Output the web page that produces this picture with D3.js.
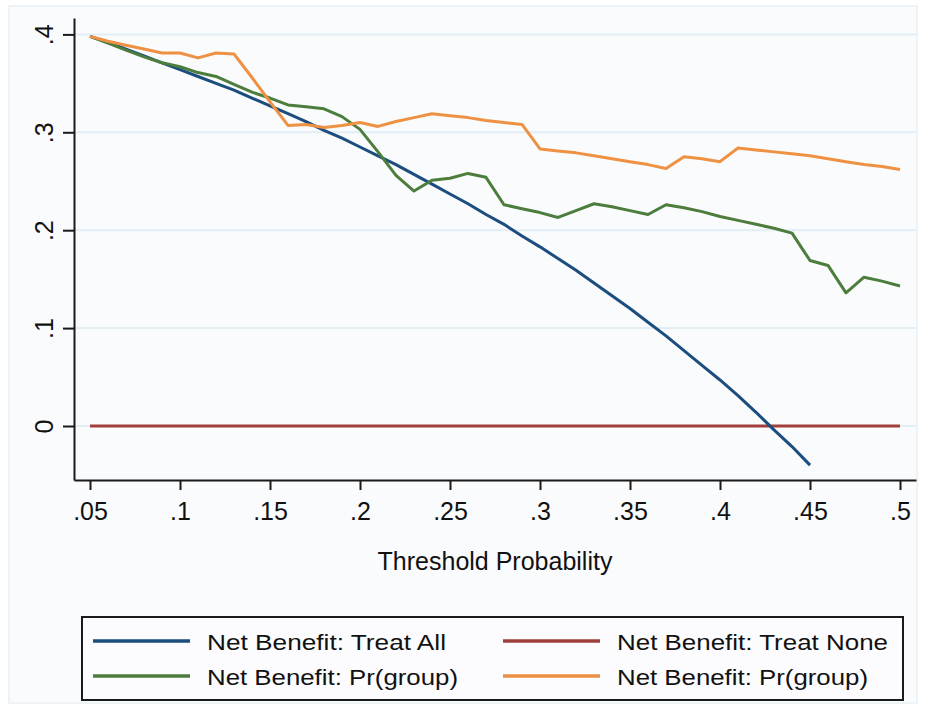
<!DOCTYPE html>
<html>
<head>
<meta charset="utf-8">
<script src="https://cdn.jsdelivr.net/npm/d3@7/dist/d3.min.js"></script>
<style>
  html, body { margin: 0; padding: 0; background: #ffffff; }
  svg { display: block; }
  text { font-family: "Liberation Sans", Arial, Helvetica, sans-serif; fill: #111; }
</style>
</head>
<body>
<svg id="chart" width="925" height="706"></svg>
<script>
// ---- data ----
const thresholds = [0.05,0.06,0.07,0.08,0.09,0.10,0.11,0.12,0.13,0.14,0.15,0.16,0.17,0.18,0.19,0.20,
  0.21,0.22,0.23,0.24,0.25,0.26,0.27,0.28,0.29,0.30,0.31,0.32,0.33,0.34,0.35,0.36,0.37,0.38,0.39,0.40,
  0.41,0.42,0.43,0.44,0.45,0.46,0.47,0.48,0.49,0.50];

const treatAll = [0.398,0.392,0.385,0.378,0.371,0.364,0.357,0.350,0.343,0.335,0.327,0.319,0.311,0.302,
  0.294,0.285,0.276,0.267,0.257,0.247,0.237,0.227,0.216,0.206,0.194,0.183,0.171,0.159,0.146,0.133,
  0.120,0.106,0.092,0.077,0.062,0.047,0.031,0.014,-0.004,-0.021,-0.040];

const treatNone = [0,0,0,0,0,0,0,0,0,0,0,0,0,0,0,0,0,0,0,0,0,0,0,0,0,0,0,0,0,0,0,0,0,0,0,0,0,0,0,0,0,0,0,0,0,0];

const prGroupGreen = [0.398,0.391,0.384,0.377,0.371,0.367,0.361,0.357,0.349,0.341,0.335,0.328,0.326,0.324,
  0.316,0.303,0.280,0.256,0.240,0.251,0.253,0.258,0.254,0.226,0.222,0.218,0.213,0.220,0.227,0.224,
  0.220,0.216,0.226,0.223,0.219,0.214,0.210,0.206,0.202,0.197,0.169,0.164,0.136,0.152,0.148,0.143];

const prGroupOrange = [0.398,0.393,0.389,0.385,0.381,0.381,0.376,0.381,0.380,0.356,0.331,0.307,0.308,0.305,
  0.307,0.310,0.306,0.311,0.315,0.319,0.317,0.315,0.312,0.310,0.308,0.283,0.281,0.279,0.276,0.273,
  0.270,0.267,0.263,0.275,0.273,0.270,0.284,0.282,0.280,0.278,0.276,0.273,0.270,0.267,0.265,0.262];

const xTicks = [0.05,0.10,0.15,0.20,0.25,0.30,0.35,0.40,0.45,0.50];
const yTicks = [0,0.1,0.2,0.3,0.4];

const seriesNames = ["Net Benefit: Treat All","Net Benefit: Treat None","Net Benefit: Pr(group)","Net Benefit: Pr(group)"];
const seriesColors = ["#1b4d7e","#a03f3b","#4c7d3d","#ee9142"];
const xTitle = "Threshold Probability";

// ---- layout ----
const svg = d3.select("#chart");
const L = 74, R = 916, T = 18, B = 480;

svg.append("rect").attr("x",9).attr("y",6).attr("width",908).attr("height",697)
  .attr("fill","#fafbfd").attr("stroke","#e8f0f5").attr("stroke-width",1.5);

const x = d3.scaleLinear().domain([0.04111, 0.50889]).range([L, R]);
const y = d3.scaleLinear().domain([-0.05516, 0.41675]).range([B, T]);

// grid
svg.append("g").selectAll("line").data(yTicks).join("line")
  .attr("x1", L).attr("x2", R)
  .attr("y1", d => y(d)).attr("y2", d => y(d))
  .attr("stroke", "#e2edf4").attr("stroke-width", 2);

// axes
const fmt = d => d === 0 ? "0" : d3.format("~g")(+d.toFixed(2)).replace(/^0\./, ".");

const yAxis = svg.append("g").attr("transform", `translate(${L},0)`)
  .call(d3.axisLeft(y).tickValues(yTicks).tickSizeInner(11).tickSizeOuter(0).tickFormat(fmt));
yAxis.select(".domain").attr("stroke", "#1a1a1a").attr("stroke-width", 2);
yAxis.selectAll(".tick line").attr("stroke", "#1a1a1a").attr("stroke-width", 2);
yAxis.selectAll(".tick text")
  .attr("x", 0).attr("y", 0).attr("dy", 0)
  .attr("transform", "translate(-21,0) rotate(-90)")
  .attr("text-anchor", "middle")
  .style("font-size", "25px").style("fill", "#111");

const xAxis = svg.append("g").attr("transform", `translate(0,${B})`)
  .call(d3.axisBottom(x).tickValues(xTicks).tickSizeInner(10).tickSizeOuter(0).tickFormat(fmt));
xAxis.select(".domain").attr("stroke", "#1a1a1a").attr("stroke-width", 2);
xAxis.selectAll(".tick line").attr("stroke", "#1a1a1a").attr("stroke-width", 2);
xAxis.selectAll(".tick text")
  .attr("y", 40).attr("dy", 0)
  .style("font-size", "25px").style("fill", "#111");

svg.append("text").attr("x", 495).attr("y", 570).attr("text-anchor", "middle")
  .style("font-size", "25px").text(xTitle);

// lines
const allSeries = [treatAll, treatNone, prGroupGreen, prGroupOrange];
const line = d3.line().x(d => x(d[0])).y(d => y(d[1]));
const drawOrder = [1, 0, 2, 3];
drawOrder.forEach(i => {
  const vals = allSeries[i];
  const pts = vals.map((v, k) => [thresholds[k], v]);
  svg.append("path").datum(pts)
    .attr("d", line)
    .attr("fill", "none")
    .attr("stroke", seriesColors[i])
    .attr("stroke-width", 3)
    .attr("stroke-linejoin", "round");
});

// legend
const lg = svg.append("g");
lg.append("rect").attr("x", 82).attr("y", 617).attr("width", 821).attr("height", 83)
  .attr("fill", "#fcfcfe").attr("stroke", "#1a1a1a").attr("stroke-width", 2);
const legendPos = [
  {lx: 93, tx: 207, ly: 641, ty: 650},
  {lx: 503, tx: 617, ly: 641, ty: 650},
  {lx: 93, tx: 207, ly: 676, ty: 685},
  {lx: 503, tx: 617, ly: 676, ty: 685}
];
const legendWidths = [239, 271, 251, 251];
seriesNames.forEach((name, i) => {
  const p = legendPos[i];
  lg.append("line").attr("x1", p.lx).attr("x2", p.lx + 97)
    .attr("y1", p.ly).attr("y2", p.ly)
    .attr("stroke", seriesColors[i]).attr("stroke-width", 3.5);
  lg.append("text").attr("x", p.tx).attr("y", p.ty)
    .style("font-size", "22px")
    .attr("textLength", legendWidths[i]).attr("lengthAdjust", "spacingAndGlyphs")
    .text(name);
});
</script>
</body>
</html>
